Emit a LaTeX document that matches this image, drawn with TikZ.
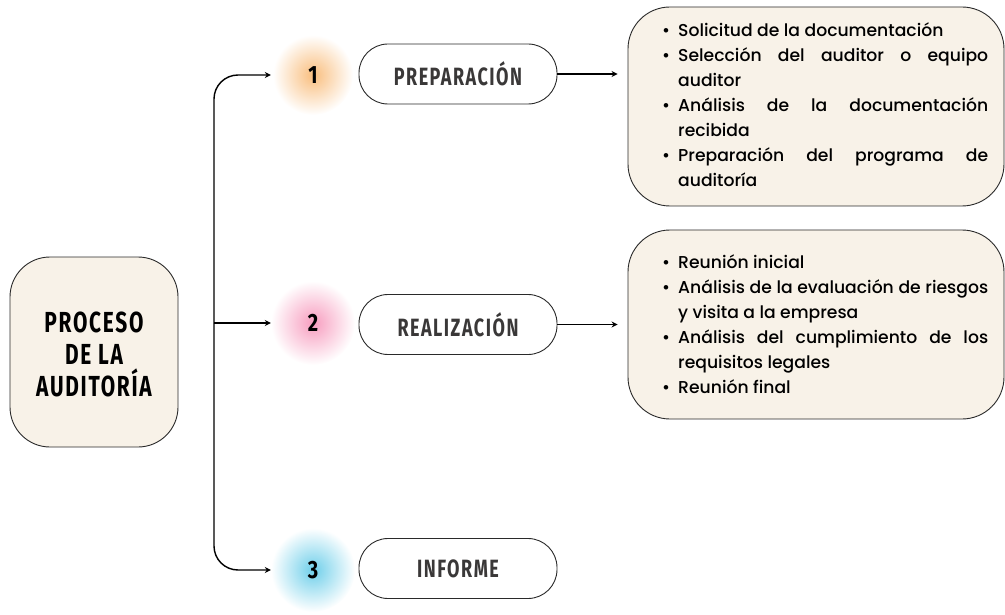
\documentclass[tikz,border=0pt]{standalone}
\usepackage{fontspec}
\setmainfont{Poppins}[UprightFont={* Medium}]
\newfontfamily\titlefont[FakeStretch=0.72, LetterSpace=6]{Fira Sans}
\newfontfamily\pillfont[FakeStretch=0.72, LetterSpace=6]{Fira Sans}
\newfontfamily\numfont[FakeStretch=0.8]{Fira Sans}
\usetikzlibrary{arrows.meta}
\definecolor{cream}{HTML}{F8F2E8}
\definecolor{edge}{HTML}{2A2A2A}
\definecolor{pilltext}{HTML}{3A3838}
\definecolor{glowA}{HTML}{F9BE7E}
\definecolor{glowB}{HTML}{F79DBF}
\definecolor{glowC}{HTML}{6FCFEA}
\newcommand\itm[1]{\par\noindent\hangindent=16pt\hangafter=1\makebox[16pt][l]{\textbullet}#1}
\tikzset{
  mainbox/.style={draw=edge, line width=0.9pt, fill=cream, rounded corners=40pt, minimum width=168pt, minimum height=190pt, inner sep=0pt},
  titletext/.style={align=center, inner sep=0pt, font=\titlefont\bfseries\fontsize{29}{32}\selectfont, text=black},
  pill/.style={draw=edge, line width=0.9pt, fill=white, rounded corners=29pt, minimum width=198pt, minimum height=60pt, inner sep=0pt, text=pilltext, font=\pillfont\bfseries\fontsize{25}{25}\selectfont},
  listbox/.style={draw=edge, line width=0.9pt, fill=cream, rounded corners=42pt, minimum width=376pt, inner sep=0pt},
  listtext/.style={text width=326pt, align=justify, inner sep=0pt, font=\fontsize{17.2}{25}\selectfont},
  numnode/.style={circle, minimum size=84pt, inner sep=0pt, font=\numfont\bfseries\fontsize{25}{25}\selectfont},
  arr/.style={-{Stealth[length=6pt,width=6pt]}, line width=1.4pt, black},
}
\begin{document}
\begin{tikzpicture}[x=1pt,y=-1pt]
\useasboundingbox (0,0) rectangle (1005,615);
% glows
\shade[inner color=glowA, outer color=white] (313,75) circle (40);
\shade[inner color=glowB, outer color=white] (313,323) circle (42);
\shade[inner color=glowC, outer color=white] (313,570) circle (42);
% main box
\node[mainbox] (main) at (94,352) {};
\node[titletext] (title) at (94,354) {PROCESO\\DE LA\\AUDITORÍA};
% numbers
\node[numnode] (n1) at (313,75) {1};
\node[numnode] (n2) at (313,323) {2};
\node[numnode] (n3) at (313,570) {3};
% pills
\node[pill] (p1) at (458,74) {PREPARACIÓN};
\node[pill] (p2) at (458,324.5) {REALIZACIÓN};
\node[pill] (p3) at (458,568.5) {INFORME};
% list boxes
\node[listbox, minimum height=199pt] (b1) at (816,106.5) {};
\node[listbox, minimum height=189pt] (b2) at (816,324.5) {};
\node[listtext, anchor=north west] (t1) at (662,11) {%
\itm{Solicitud de la documentación}
\itm{Selección del auditor o equipo\linebreak auditor}
\itm{Análisis de la documentación\linebreak recibida}
\itm{Preparación del programa de\linebreak auditoría}\par};
\node[listtext, anchor=north west] (t2) at (662,243) {%
\itm{Reunión inicial}
\itm{Análisis de la evaluación de riesgos\linebreak y visita a la empresa}
\itm{Análisis del cumplimiento de los\linebreak requisitos legales}
\itm{Reunión final}\par};
% connectors
\coordinate (spine) at (214,323);
\draw[arr, rounded corners=24pt] (spine) |- (n1.west);
\draw[arr, rounded corners=24pt] (spine) |- (n3.west);
\draw[arr] (spine) -- (n2.west);
\draw[arr, shorten >=10pt] (p1.east) -- (p1.east -| b1.west);
\draw[arr, shorten >=10pt] (p2.east) -- (p2.east -| b2.west);
\end{tikzpicture}
\end{document}
